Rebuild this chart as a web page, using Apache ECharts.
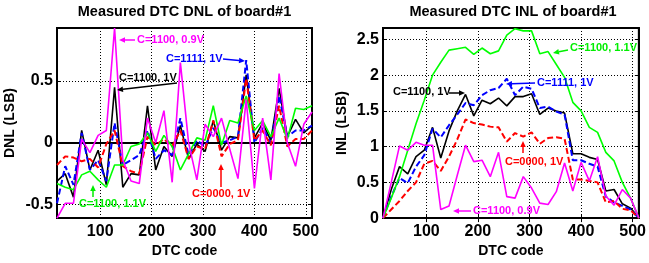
<!DOCTYPE html>
<html>
<head>
<meta charset="utf-8">
<script src="https://cdn.jsdelivr.net/npm/echarts@6/dist/echarts.min.js"></script>
<style>
html,body{margin:0;padding:0;background:#fff;}
#main{width:649px;height:263px;}
</style>
</head>
<body>
<div id="main"></div>
<script>
// DTC codes (x)
const codes = [16, 32, 48, 64, 80, 96, 112, 128, 144, 160, 176, 192, 208, 224, 240, 256,
  272, 288, 304, 320, 336, 352, 368, 384, 400, 416, 432, 448, 464, 480, 496, 512];

// DNL (LSB)
const dnlC1100_1V = [-0.31, -0.25, -0.44, 0.10, -0.22, -0.06, -0.34, 0.45, -0.36, -0.25, -0.26, 0.30, -0.22, -0.03, -0.11, 0.14,
  -0.13, -0.01, -0.07, 0.18, -0.06, 0.05, 0.04, 0.55, 0.04, 0.16, 0.02, 0.44, 0.05, 0.19, 0.08, 0.14];
const dnlC1111_1V = [-0.49, -0.19, -0.34, 0.08, -0.22, -0.14, -0.31, 0.16, -0.18, -0.14, -0.10, 0.10, -0.13, -0.06, -0.10, 0.20,
  -0.10, 0.02, -0.03, 0.12, 0.00, 0.02, 0.05, 0.67, 0.00, 0.12, 0.00, 0.38, 0.05, 0.10, 0.10, 0.14];
const dnlC0000_1V = [-0.18, -0.11, -0.12, -0.15, -0.13, -0.20, -0.01, 0.10, -0.19, -0.23, -0.25, 0.05, -0.02, 0.03, -0.03, 0.10,
  -0.13, -0.03, -0.05, 0.18, -0.11, -0.01, 0.02, 0.52, 0.02, 0.10, -0.02, 0.30, -0.03, 0.03, 0.03, 0.10];
const dnlC1100_11V = [-0.33, -0.36, -0.38, -0.26, -0.23, -0.30, -0.36, -0.18, -0.18, -0.03, -0.01, 0.08, -0.07, 0.06, -0.03, -0.22,
  -0.09, 0.04, 0.02, 0.30, -0.02, 0.18, 0.16, 0.38, 0.10, 0.18, 0.05, 0.20, 0.03, 0.28, 0.27, 0.30];
const dnlC1100_09V = [-0.61, -0.49, -0.49, 0.03, -0.08, 0.06, 0.10, 0.93, -0.14, -0.31, -0.33, 0.20, 0.00, 0.26, -0.32, 0.65,
  0.00, -0.30, 0.15, 0.05, 0.20, -0.05, -0.29, 0.35, -0.37, 0.20, -0.30, 0.56, 0.00, -0.19, 0.15, 0.25];

// INL (LSB)
const inlC1100_1V = [0, 0.40, 0.72, 0.62, 0.86, 0.95, 1.27, 0.84, 1.22, 1.50, 1.73, 1.43, 1.65, 1.60, 1.68, 1.57,
  1.70, 1.70, 1.74, 1.45, 1.54, 1.50, 1.47, 0.90, 0.90, 0.85, 0.82, 0.38, 0.40, 0.20, 0.14, 0];
const inlC1111_1V = [0, 0.30, 0.56, 0.49, 0.72, 0.88, 1.25, 1.13, 1.30, 1.45, 1.61, 1.58, 1.72, 1.79, 1.82, 1.95,
  1.72, 1.84, 1.81, 1.54, 1.56, 1.49, 1.45, 0.81, 0.81, 0.76, 0.72, 0.30, 0.22, 0.17, 0.12, 0];
const inlC0000_1V = [0, 0.12, 0.24, 0.38, 0.50, 0.76, 0.80, 0.66, 0.86, 1.10, 1.38, 1.33, 1.31, 1.28, 1.27, 1.07,
  1.19, 1.14, 1.20, 1.04, 1.12, 1.13, 1.11, 0.54, 0.54, 0.52, 0.50, 0.22, 0.24, 0.13, 0.11, 0];
const inlC1100_11V = [0, 0.28, 0.58, 0.95, 1.32, 1.65, 2.00, 2.18, 2.35, 2.37, 2.39, 2.29, 2.38, 2.30, 2.34, 2.56,
  2.65, 2.62, 2.62, 2.30, 2.33, 2.15, 1.97, 1.62, 1.50, 1.27, 1.20, 0.92, 0.80, 0.50, 0.28, 0];
const inlC1100_09V = [0, 0.50, 1.01, 0.95, 1.06, 1.02, 1.02, 0.12, 0.17, 0.60, 1.02, 0.79, 0.81, 0.58, 0.92, 0.30,
  0.28, 0.58, 0.42, 0.21, 0.19, 0.37, 0.77, 0.38, 0.78, 0.52, 0.86, 0.31, 0.18, 0.40, 0.28, 0];

// tick labels
const xTicks = [100, 200, 300, 400, 500];
const dnlTicks = [-0.5, 0, 0.5];
const inlTicks = [0, 0.5, 1, 1.5, 2, 2.5];

let myChart = echarts.init(document.getElementById('main'));

const FONT = '"Liberation Sans", Arial, sans-serif';

function pairs(vals) {
  return codes.map((c, i) => [c, vals[i]]);
}

function bottomAxis(grid) {
  return {
    type: 'value', gridIndex: grid, min: 16, max: 512,
    name: 'DTC code', nameLocation: 'middle', nameGap: 20,
    nameTextStyle: { fontFamily: FONT, fontWeight: 'bold', fontSize: 14, color: '#000' },
    axisLine: { lineStyle: { color: '#000', width: 2 } },
    axisTick: { inside: true, length: 4, customValues: xTicks, lineStyle: { color: '#000', width: 1 } },
    axisLabel: { customValues: xTicks, margin: 5, fontFamily: FONT, fontWeight: 'bold', fontSize: 16, color: '#000' },
    splitLine: { show: true, lineStyle: { color: '#000', width: 1, type: [1, 2] } }
  };
}
function topAxis(grid) {
  return {
    type: 'value', gridIndex: grid, min: 16, max: 512, position: 'top',
    axisLine: { lineStyle: { color: '#000', width: 2 } },
    axisTick: { inside: true, length: 4, customValues: xTicks, lineStyle: { color: '#000' } },
    axisLabel: { show: false }, splitLine: { show: false }
  };
}
function leftAxis(grid, min, max, ticks, name, gap) {
  return {
    type: 'value', gridIndex: grid, min: min, max: max,
    name: name, nameLocation: 'middle', nameGap: gap, nameRotate: 90,
    nameTextStyle: { fontFamily: FONT, fontWeight: 'bold', fontSize: 14, color: '#000' },
    axisLine: { show: true, lineStyle: { color: '#000', width: 2 } },
    axisTick: { show: true, inside: true, length: 4, customValues: ticks, lineStyle: { color: '#000' } },
    axisLabel: { customValues: ticks, margin: 4, fontFamily: FONT, fontWeight: 'bold', fontSize: 16, color: '#000' },
    splitLine: { show: true, lineStyle: { color: '#000', width: 1, type: [1, 2] } }
  };
}
function rightAxis(grid, min, max, ticks) {
  return {
    type: 'value', gridIndex: grid, min: min, max: max, position: 'right',
    axisLine: { show: true, lineStyle: { color: '#000', width: 2 } },
    axisTick: { show: true, inside: true, length: 4, customValues: ticks, lineStyle: { color: '#000' } },
    axisLabel: { show: false }, splitLine: { show: false }
  };
}

function line(name, vals, color, dashed, xi, yi) {
  return {
    name: name, type: 'line', xAxisIndex: xi, yAxisIndex: yi,
    data: pairs(vals), symbol: 'none', animation: false,
    lineStyle: { color: color, width: dashed ? 2 : 1.6, type: dashed ? [6, 3] : 'solid' }
  };
}

function arrow(x1, y1, x2, y2, color) {
  let a = Math.atan2(y2 - y1, x2 - x1);
  let bx = x2 - 6 * Math.cos(a), by = y2 - 6 * Math.sin(a);
  let px = -Math.sin(a) * 2.8, py = Math.cos(a) * 2.8;
  return [
    { type: 'line', z: 100, shape: { x1: x1, y1: y1, x2: bx, y2: by }, style: { stroke: color, lineWidth: 1.5 } },
    { type: 'polygon', z: 100, shape: { points: [[x2, y2], [bx + px, by + py], [bx - px, by - py]] }, style: { fill: color } }
  ];
}

// annotation: text, colour, text left/middle, arrow tail -> head
const notes = [
  ['C=1100, 0.9V', '#ff00ff', 137, 40, 135, 40, 119, 40],
  ['C=1111, 1V', '#0000ff', 166, 59, 223, 59, 245, 61],
  ['C=1100, 1V', '#000000', 119, 78, 177, 83, 117, 90],
  ['C=0000, 1V', '#ff0000', 192, 194, 221, 187, 221, 164],
  ['C=1100, 1.1V', '#00ee00', 79, 204, 93, 197, 93, 185],
  ['C=1100, 1.1V', '#00ee00', 570, 48, 568, 50, 553, 53],
  ['C=1111, 1V', '#0000ff', 537, 83, 535, 83, 506, 84],
  ['C=1100, 1V', '#000000', 393, 92, 449, 93, 465, 93],
  ['C=0000, 1V', '#ff0000', 505, 162, 523, 153, 523, 141],
  ['C=1100, 0.9V', '#ff00ff', 473, 211, 471, 211, 453, 211]
];

let graphics = [
  { type: 'text', x: 184.5, y: 12, style: { text: 'Measured DTC DNL of board#1', font: 'bold 14.5px ' + FONT, fill: '#000', align: 'center', verticalAlign: 'middle' } },
  { type: 'text', x: 513, y: 12, style: { text: 'Measured DTC INL of board#1', font: 'bold 14.5px ' + FONT, fill: '#000', align: 'center', verticalAlign: 'middle' } }
];
notes.forEach(n => {
  graphics.push({ type: 'text', z: 100, x: n[2], y: n[3], style: { text: n[0], font: 'bold 11px ' + FONT, fill: n[1], align: 'left', verticalAlign: 'middle' } });
  graphics = graphics.concat(arrow(n[4], n[5], n[6], n[7], n[1]));
});

option = {
  animation: false,
  backgroundColor: '#fff',
  grid: [
    { left: 57, top: 28, width: 255, height: 195, show: true, borderColor: '#000', borderWidth: 2, backgroundColor: '#fff' },
    { left: 383, top: 28, width: 260, height: 195, show: true, borderColor: '#000', borderWidth: 2, backgroundColor: '#fff' }
  ],
  xAxis: [bottomAxis(0), topAxis(0), bottomAxis(1), topAxis(1)],
  yAxis: [
    leftAxis(0, -0.61, 0.93, dnlTicks, 'DNL (LSB)', 40),
    rightAxis(0, -0.61, 0.93, dnlTicks),
    leftAxis(1, 0, 2.66, inlTicks, 'INL (LSB)', 34),
    rightAxis(1, 0, 2.66, inlTicks)
  ],
  series: [
    line('C=1100, 1V', dnlC1100_1V, '#000000', false, 0, 0),
    line('C=1111, 1V', dnlC1111_1V, '#0000ff', true, 0, 0),
    line('C=0000, 1V', dnlC0000_1V, '#ff0000', true, 0, 0),
    line('C=1100, 1.1V', dnlC1100_11V, '#00ff00', false, 0, 0),
    line('C=1100, 0.9V', dnlC1100_09V, '#ff00ff', false, 0, 0),
    line('C=1100, 1V', inlC1100_1V, '#000000', false, 2, 2),
    line('C=1111, 1V', inlC1111_1V, '#0000ff', true, 2, 2),
    line('C=0000, 1V', inlC0000_1V, '#ff0000', true, 2, 2),
    line('C=1100, 1.1V', inlC1100_11V, '#00ff00', false, 2, 2),
    line('C=1100, 0.9V', inlC1100_09V, '#ff00ff', false, 2, 2)
  ],
  graphic: graphics
};
myChart.setOption(option);
</script>
</body>
</html>
